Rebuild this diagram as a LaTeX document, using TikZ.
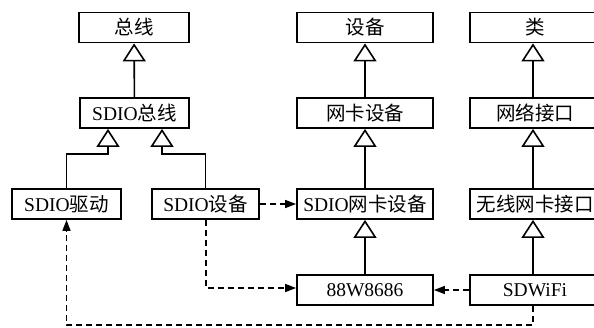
\documentclass[tikz,border=0pt]{standalone}
\usepackage{fontspec}
\setmainfont{Liberation Serif}
\newfontfamily\cjkfont{Noto Sans CJK SC}
\newcommand\zh[1]{{\cjkfont #1}}
\usetikzlibrary{arrows.meta}
\begin{document}
\begin{tikzpicture}[x=1pt,y=-1pt,
  box/.style={draw,line width=1.8pt,minimum height=30pt,inner sep=0pt,
    font=\fontsize{19.5}{21}\selectfont},
  wA/.style={box,minimum width=110pt},
  wB/.style={box,minimum width=108pt},
  wC/.style={box,minimum width=136pt},
  wD/.style={box,minimum width=130pt},
  inh/.style={line width=1.6pt,-{Triangle[open,length=18pt,width=23pt,line width=1.6pt]}},
  dep/.style={line width=1.6pt,dash pattern=on 6pt off 4pt,-{Triangle[length=11pt,width=8pt]}}]
\useasboundingbox (0,0) rectangle (594,327);
\begin{scope}
\clip (0,0) rectangle (594,327);
% row 1
\node[wA] (bus) at (134,27.5) {\zh{总线}};
\node[wC] (dev) at (365,27.5) {\zh{设备}};
\node[wD] (cls) at (535,27.5) {\zh{类}};
% row 2
\node[wA,minimum width=109pt] (sdiobus) at (134.5,113) {SDIO\zh{总线}};
\node[wC] (nic) at (365,113) {\zh{网卡设备}};
\node[wD] (netif) at (535,113) {\zh{网络接口}};
% row 3
\node[wB,minimum width=109pt] (sdiodrv) at (66.5,204) {SDIO\zh{驱动}};
\node[wB,minimum width=107pt] (sdiodev) at (205.5,204) {SDIO\zh{设备}};
\node[wC] (sdionic) at (365,204) {SDIO\zh{网卡设备}};
\node[wD] (wnetif) at (535,204) {\zh{无线网卡接口}};
% row 4
\node[wC] (chip) at (365,290) {88W8686};
\node[wD] (sdwifi) at (535,290) {SDWiFi};
\end{scope}
% junctions
\coordinate (j1) at (108,154);
\coordinate (j2) at (162,154);
\coordinate (j3) at (206,288);
\coordinate (j4) at (533,325);
% inheritance
\draw[inh] (sdiobus) -- (bus);
\draw[inh] (sdiodrv.north) |- (j1) -- (j1 |- sdiobus.south);
\draw[inh] (sdiodev.north) |- (j2) -- (j2 |- sdiobus.south);
\draw[inh] (nic) -- (dev);
\draw[inh] (sdionic) -- (nic);
\draw[inh] (chip) -- (sdionic);
\draw[inh] ([xshift=-2pt]netif.north) -- ([xshift=-2pt]cls.south);
\draw[inh] ([xshift=-2pt]wnetif.north) -- ([xshift=-2pt]netif.south);
\draw[inh] ([xshift=-2pt]sdwifi.north) -- ([xshift=-2pt]wnetif.south);
% dependencies
\draw[dep] (sdiodev.east) -- (sdionic.west);
\draw[dep] (sdiodev.south -| j3) -- (j3) -- (j3 -| chip.west);
\draw[dep] (sdwifi.west) -- (chip.east);
\draw[dep] (j4 |- sdwifi.south) -- (j4) -| (sdiodrv.south);
\end{tikzpicture}
\end{document}
